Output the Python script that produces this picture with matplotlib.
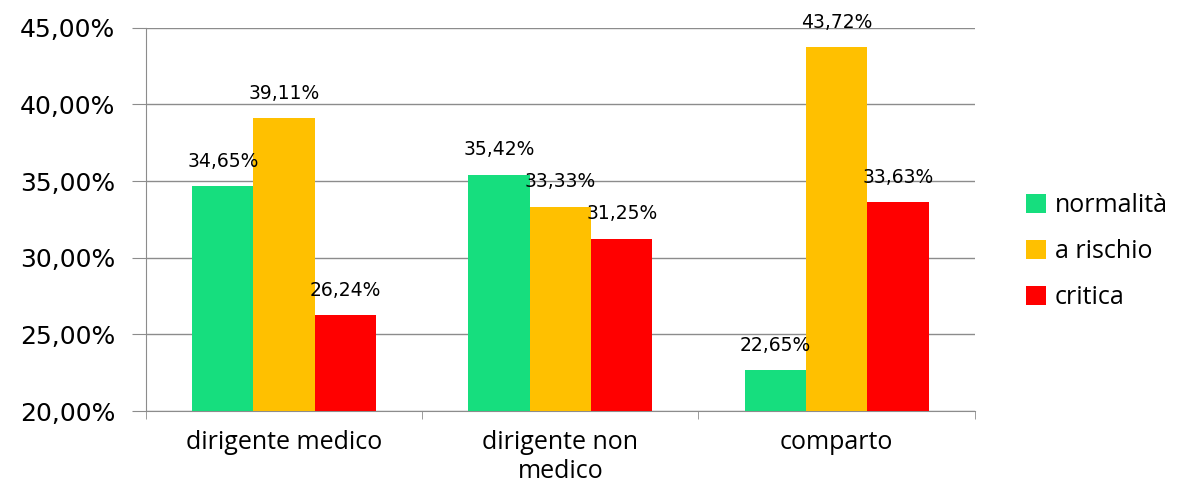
import numpy as np
import matplotlib.pyplot as plt
from matplotlib.ticker import FuncFormatter

categories = ["dirigente medico", "dirigente non\nmedico", "comparto"]
series = ["normalità", "a rischio", "critica"]
normalita = [34.65, 35.42, 22.65]
a_rischio = [39.11, 33.33, 43.72]
critica = [26.24, 31.25, 33.63]
colors = ["#16DE7E", "#FFC000", "#FF0000"]

fig = plt.figure(figsize=(11.89, 4.82), dpi=100)
ax = fig.add_axes([0.1228, 0.1473, 0.697, 0.795])

x = np.arange(len(categories))
w = 0.222
for i, (vals, name) in enumerate(zip([normalita, a_rischio, critica], series)):
    pos = x + (i - 1) * w
    ax.bar(pos, vals, width=w, color=colors[i], label=name, zorder=3)
    for p, v in zip(pos, vals):
        ax.annotate(f"{v:.2f}%".replace(".", ","), (p, v), xytext=(0, 11),
                    textcoords="offset points", ha="center", va="bottom",
                    fontsize=13.5, family="DejaVu Sans", zorder=4)

ax.set_ylim(20, 45)
ax.set_xlim(-0.5, 2.5)
ax.set_yticks(np.arange(20, 46, 5))
ax.yaxis.set_major_formatter(FuncFormatter(lambda v, _: f"{v:.2f}%".replace(".", ",")))
ax.yaxis.grid(True, color="#8c8c8c", linewidth=1, zorder=0)
ax.set_xticks(x)
ax.set_xticklabels(categories, fontsize=18, family="Open Sans", linespacing=1.2)
ax.set_xticks([-0.5, 0.5, 1.5, 2.5], minor=True)
ax.tick_params(axis="x", which="major", length=0, pad=14)
ax.tick_params(axis="x", which="minor", length=6, color="#8c8c8c")
ax.tick_params(axis="y", length=10, color="#8c8c8c", labelsize=18, pad=12)
for t in ax.get_yticklabels():
    t.set_family("DejaVu Sans")

for s in ["top", "right"]:
    ax.spines[s].set_visible(False)
for s in ["left", "bottom"]:
    ax.spines[s].set_color("#8c8c8c")

ax.legend(loc="center left", bbox_to_anchor=(1.035, 0.416), frameon=False,
          handlelength=0.8, handleheight=0.8, handletextpad=0.35,
          labelspacing=0.85, prop={"family": "Open Sans", "size": 18})

fig.savefig("out.png", dpi=100)
